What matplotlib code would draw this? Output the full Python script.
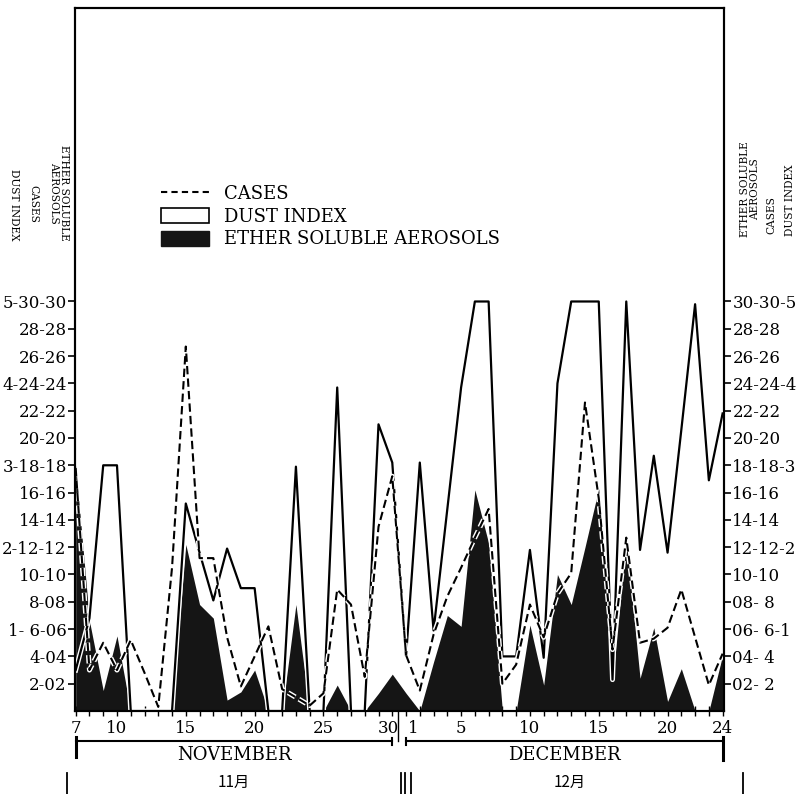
import numpy as np
import matplotlib
matplotlib.use('Agg')
import matplotlib.pyplot as plt
import matplotlib.patheffects as pe
import matplotlib.transforms as mtransforms
from matplotlib.lines import Line2D
from matplotlib.patches import Patch

# days shown on the x axis (7 Nov .. 30 Nov, 1 Dec .. 24 Dec)
nov_days = list(range(7, 31))
dec_days = list(range(1, 25))

# all three series read on the common 0-30 scale
dust_nov = [3, 6.8, 18, 18, 0, 0, 0, 0, 15.2, 11.6, 8.1, 11.9, 9.0, 9.0, 0, 0,
            17.9, 0, 0, 23.7, 0, 0, 21.0, 18.2]
dust_dec = [4.0, 18.2, 5.9, 14.8, 23.7, 30, 30, 4.0, 4.0, 11.8, 3.9, 24.0, 30, 30,
            30, 2.3, 30, 11.8, 18.7, 11.6, 20.6, 29.8, 16.9, 21.8]

cases_nov = [17.8, 3.0, 5.0, 3.0, 5.2, 2.8, 0.3, 10.5, 26.7, 11.2, 11.2, 5.4, 1.8,
             4.0, 6.2, 1.6, 1.0, 0.4, 1.3, 8.9, 7.8, 2.5, 13.5, 17.2]
cases_dec = [4.1, 1.5, 5.6, 8.4, 10.5, 12.7, 14.8, 2.0, 3.4, 7.8, 5.4, 8.6, 10.1,
             22.6, 15.6, 4.5, 12.7, 5.0, 5.3, 6.1, 8.9, 5.4, 1.9, 4.2]

aerosol_nov = [18.0, 6.6, 1.5, 5.5, 0, 0, 0, 0, 12.2, 7.8, 6.8, 0.8, 1.4, 3.0, 0, 0,
               7.8, 0, 0, 1.9, 0, 0, 1.3, 2.7]
aerosol_dec = [1.3, 0, 3.6, 7.0, 6.2, 16.2, 12.3, 0, 0, 6.3, 1.9, 10.0, 7.8, 12.0,
               16.3, 2.1, 12.5, 2.4, 6.1, 0.7, 3.1, 0, 0, 4.1]

tick_vals = list(range(2, 31, 2))
left_labels = ['2-02', '4-04', '1- 6-06', '8-08', '10-10', '2-12-12', '14-14',
               '16-16', '3-18-18', '20-20', '22-22', '4-24-24', '26-26', '28-28',
               '5-30-30']
right_labels = ['02- 2', '04- 4', '06- 6-1', '08- 8', '10-10', '12-12-2', '14-14',
                '16-16', '18-18-3', '20-20', '22-22', '24-24-4', '26-26', '28-28',
                '30-30-5']
nov_labelled = [7, 10, 15, 20, 25, 30]
dec_labelled = [1, 5, 10, 15, 20, 24]

plt.rcParams['font.family'] = 'DejaVu Serif'

x_nov = np.arange(len(nov_days))
x_dec = np.arange(len(dec_days)) + len(nov_days)
x = np.concatenate([x_nov, x_dec])
dust = np.array(dust_nov + dust_dec)
cases = np.array(cases_nov + cases_dec)
aerosol = np.array(aerosol_nov + aerosol_dec)

fig = plt.figure(figsize=(8.09, 7.94), dpi=100)
ax = fig.add_axes([75 / 809, 83 / 794, 649 / 809, 703 / 794])

ax.fill_between(x, 0, aerosol, color='#151515', lw=0, zorder=2)
halo = [pe.Stroke(linewidth=3.6, foreground='white'), pe.Normal()]
ax.plot(x, dust, color='black', lw=1.6, zorder=3, path_effects=halo)
ax.plot(x, cases, color='black', lw=1.5, ls=(0, (4, 2)), zorder=4, path_effects=halo)

ax.set_xlim(-0.05, 47.1)
ax.set_ylim(0, 51.5)

for s in ax.spines.values():
    s.set_linewidth(1.5)

ax.set_yticks(tick_vals)
ax.set_yticklabels(left_labels, fontsize=12)
ax.tick_params(axis='y', direction='out', length=5, width=1.2, pad=1)

xlabels = []
for d in nov_days:
    xlabels.append(str(d) if d in nov_labelled else '')
for d in dec_days:
    xlabels.append(str(d) if d in dec_labelled else '')
ax.set_xticks(x)
ax.set_xticklabels(xlabels, fontsize=12)
ax.tick_params(axis='x', direction='inout', length=7, width=1.0, pad=3)

# nudge "30" and "1" apart as in the original
tl = ax.get_xticklabels()
tl[x_nov[-1]].set_transform(tl[x_nov[-1]].get_transform()
                            + mtransforms.ScaledTranslation(-0.04, 0, fig.dpi_scale_trans))
tl[x_dec[0]].set_transform(tl[x_dec[0]].get_transform()
                           + mtransforms.ScaledTranslation(0.07, 0, fig.dpi_scale_trans))

ax2 = ax.twinx()
ax2.set_ylim(ax.get_ylim())
ax2.set_yticks(tick_vals)
ax2.set_yticklabels(right_labels, fontsize=12)
ax2.tick_params(axis='y', direction='out', length=5, width=1.2, pad=1)
for s in ax2.spines.values():
    s.set_linewidth(1.5)

# legend
handles = [Line2D([0], [0], color='black', lw=1.5, ls=(0, (3, 2))),
           Patch(facecolor='white', edgecolor='black', lw=1.2),
           Patch(facecolor='#151515', edgecolor='#151515')]
ax.legend(handles, ['CASES', 'DUST INDEX', 'ETHER SOLUBLE AEROSOLS'],
          loc='upper left', bbox_to_anchor=(0.121, 0.758), frameon=False,
          fontsize=13, handlelength=2.65, handleheight=0.9, labelspacing=0.25,
          handletextpad=0.85, borderaxespad=0)

# month brackets below the day axis
tr = ax.get_xaxis_transform()
kw = dict(color='black', lw=1.5, transform=tr, clip_on=False)
nov_a, nov_b = x_nov[0], x_nov[-1]
dec_a, dec_b = x_dec[0], x_dec[-1]
ax.plot([nov_a, nov_b], [-0.0427, -0.0427], **kw)
ax.plot([nov_a, nov_a], [-0.037, -0.066], lw=2.2, color='black', transform=tr, clip_on=False)
ax.plot([nov_b, nov_b], [-0.038, -0.048], **kw)
ax.plot([nov_b + 0.4, nov_b + 0.4], [-0.001, -0.043], lw=1.0, color='black', transform=tr, clip_on=False)
ax.plot([dec_a, dec_b], [-0.0427, -0.0427], **kw)
ax.plot([dec_a, dec_a], [-0.038, -0.048], **kw)
ax.plot([dec_b, dec_b], [-0.037, -0.070], lw=2.2, color='black', transform=tr, clip_on=False)
ax.text((nov_a + nov_b) / 2, -0.062, 'NOVEMBER', transform=tr, ha='center', va='center', fontsize=13)
ax.text((dec_a + dec_b) / 2, -0.062, 'DECEMBER', transform=tr, ha='center', va='center', fontsize=13)

for xv in [nov_a - 0.6, nov_b + 0.6, nov_b + 0.9, dec_a + 0.35, dec_b + 1.5]:
    ax.plot([xv, xv], [-0.088, -0.12], lw=1.3, color='black', transform=tr, clip_on=False)
cjk = ['Noto Sans CJK JP', 'DejaVu Sans']
ax.text((nov_a + nov_b) / 2, -0.101, '11月', transform=tr, ha='center', va='center', fontsize=11, family=cjk)
ax.text((dec_a + dec_b) / 2 + 0.4, -0.101, '12月', transform=tr, ha='center', va='center', fontsize=11, family=cjk)

# rotated column headings for the combined scales
hk = dict(fontsize=7.6, ha='center', va='bottom', multialignment='center')
fig.text(59 / 809, 1 - 241 / 794, 'ETHER SOLUBLE\nAEROSOLS', rotation=270, linespacing=0.95, **hk)
fig.text(33 / 809, 1 - 223 / 794, 'CASES', rotation=270, **hk)
fig.text(14 / 809, 1 - 241 / 794, 'DUST INDEX', rotation=270, **hk)
fig.text(750 / 809, 1 - 237 / 794, 'ETHER SOLUBLE\nAEROSOLS', rotation=90, linespacing=0.95, **hk)
fig.text(771 / 809, 1 - 234 / 794, 'CASES', rotation=90, **hk)
fig.text(790 / 809, 1 - 236 / 794, 'DUST INDEX', rotation=90, **hk)

fig.savefig('out.png', dpi=100)
